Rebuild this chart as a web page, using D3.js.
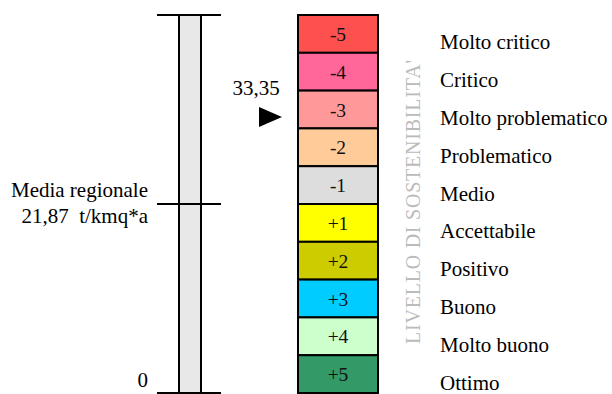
<!DOCTYPE html>
<html><head><meta charset="utf-8">
<script src="https://cdn.jsdelivr.net/npm/d3@7"></script>
<style>
html,body{margin:0;padding:0;background:#fff;}
svg{display:block;}
text{font-family:'Liberation Serif','Times New Roman',Times,'DejaVu Serif',serif;}
</style></head>
<body><svg id="c" width="612" height="394"></svg>
<script>
// ---- data ----
const classes = ["-5","-4","-3","-2","-1","+1","+2","+3","+4","+5"];
const classNames = ["Molto critico","Critico","Molto problematico","Problematico","Medio","Accettabile","Positivo","Buono","Molto buono","Ottimo"];
const classColors = ["#ff5050","#ff6699","#ff9999","#ffcc99","#dddddd","#ffff00","#cccc00","#00ccff","#ccffcc","#339966"];
const regionalMean = 21.87;
const meanLabel = ["Media regionale","21,87  t/kmq*a"];
const currentValue = 33.35;
const currentLabel = "33,35";
const currentClass = "-3";
const axisTitle = "LIVELLO DI SOSTENIBILITA'";

const FONT = "'Liberation Serif','Times New Roman',Times,'DejaVu Serif',serif";
const svg = d3.select("#c");
const yTop = 15, yBottom = 393;

// value scale for left bar
const yVal = d3.scaleLinear().domain([0, regionalMean*2]).range([yBottom, yTop]);
// class scale for the right column
const yCls = d3.scaleBand().domain(classes).range([yTop, yBottom]).padding(0);

// ---- left bar ----
const barX0 = 179, barX1 = 201;
svg.append("rect").attr("x",barX0).attr("y",yVal(regionalMean*2))
  .attr("width",barX1-barX0).attr("height",yVal(0)-yVal(regionalMean*2))
  .attr("fill","#e8e8e8");
[barX0,barX1].forEach(x=>svg.append("line").attr("x1",x).attr("x2",x)
  .attr("y1",yVal(regionalMean*2)).attr("y2",yVal(0)).attr("stroke","#000").attr("stroke-width",2));
const tickVals = [0, regionalMean, regionalMean*2];
svg.selectAll("line.tick").data(tickVals).enter().append("line").attr("class","tick")
  .attr("x1",157).attr("x2",221).attr("y1",d=>yVal(d)).attr("y2",d=>yVal(d))
  .attr("stroke","#000").attr("stroke-width",2);

svg.append("text").attr("x",148).attr("y",yVal(0)-6).attr("text-anchor","end")
  .attr("font-family",FONT).attr("font-size",21).text("0");
svg.append("text").attr("x",148).attr("y",yVal(regionalMean)-7).attr("text-anchor","end")
  .attr("font-family",FONT).attr("font-size",21).text(meanLabel[0]);
svg.append("text").attr("x",148).attr("y",yVal(regionalMean)+19).attr("text-anchor","end")
  .attr("font-family",FONT).attr("font-size",21).style("white-space","pre").text(meanLabel[1]);

// ---- class boxes ----
const boxX0 = 298, boxX1 = 378;
const g = svg.selectAll("g.cls").data(classes).enter().append("g").attr("class","cls");
g.append("rect").attr("x",boxX0).attr("y",d=>yCls(d)).attr("width",boxX1-boxX0)
  .attr("height",yCls.bandwidth()).attr("fill",(d,i)=>classColors[i])
  .attr("stroke","#000").attr("stroke-width",2);
g.append("text").attr("x",(boxX0+boxX1)/2).attr("y",d=>yCls(d)+yCls.bandwidth()/2+7)
  .attr("text-anchor","middle").attr("font-family",FONT).attr("font-size",19.5).attr("fill","#111").text(d=>d);
g.append("text").attr("x",440).attr("y",d=>yCls(d)+yCls.bandwidth()/2+15.5)
  .attr("font-family",FONT).attr("font-size",21).attr("fill","#000").text((d,i)=>classNames[i]);

// ---- vertical title ----
const midY = (yTop+yBottom)/2;
svg.append("text").attr("transform",`translate(420,${midY-2}) rotate(-90)`)
  .attr("text-anchor","middle").attr("font-family",FONT).attr("font-size",20).attr("fill","#bbbbbb")
  .attr("textLength",284).attr("lengthAdjust","spacing").text(axisTitle);

// ---- current value pointer ----
const ay = yCls(currentClass) + yCls.bandwidth()*0.7;
svg.append("path").attr("d",`M259,${ay-10}L282,${ay}L259,${ay+10}Z`).attr("fill","#000");
svg.append("text").attr("x",256).attr("y",ay-22).attr("text-anchor","middle")
  .attr("font-family",FONT).attr("font-size",21).text(currentLabel);
</script></body></html>
